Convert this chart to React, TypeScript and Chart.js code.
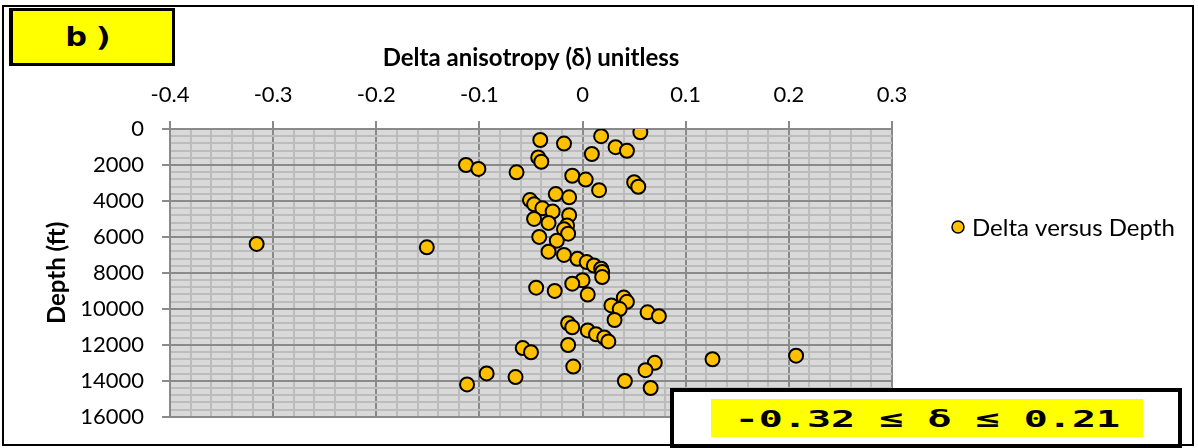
import React, { useEffect, useRef } from "react";
import { Chart, registerables } from "chart.js";

Chart.register(...registerables);

// Delta anisotropy (unitless) versus depth (ft)
const deltaValues: number[] = [
  0.056, 0.018, -0.041, -0.018, 0.032, 0.043, 0.009, -0.043, -0.04, -0.113,
  -0.101, -0.064, -0.01, 0.003, 0.05, 0.054, 0.016, -0.026, -0.013, -0.051,
  -0.047, -0.039, -0.029, -0.013, -0.047, -0.033, -0.015, -0.018, -0.014, -0.042,
  -0.025, -0.316, -0.151, -0.033, -0.018, -0.005, 0.004, 0.011, 0.018, 0.019,
  0.019, 0.0, -0.01, -0.045, -0.027, 0.005, 0.04, 0.043, 0.028, 0.036,
  0.063, 0.074, 0.031, -0.014, -0.01, 0.005, 0.013, 0.021, 0.025, -0.014,
  -0.058, -0.05, 0.207, 0.126, 0.07, -0.009, 0.061, -0.093, -0.065, 0.041,
  -0.112, 0.066,
];
const depthValues: number[] = [
  180, 400, 610, 810, 1010, 1210, 1390, 1580, 1820, 2000,
  2220, 2410, 2600, 2810, 2960, 3210, 3400, 3620, 3800, 3950,
  4190, 4410, 4590, 4790, 5000, 5220, 5360, 5570, 5820, 6000,
  6210, 6390, 6580, 6820, 7000, 7220, 7400, 7590, 7770, 7950,
  8230, 8410, 8600, 8820, 9000, 9200, 9370, 9610, 9810, 10010,
  10190, 10410, 10620, 10800, 11020, 11200, 11410, 11590, 11810, 12010,
  12180, 12410, 12600, 12800, 13000, 13210, 13410, 13590, 13790, 14010,
  14200, 14400,
];

const xMajorTicks: number[] = [-0.4, -0.3, -0.2, -0.1, 0, 0.1, 0.2, 0.3];
const xMinorStep = 0.02;
const yMajorTicks: number[] = [0, 2000, 4000, 6000, 8000, 10000, 12000, 14000, 16000];
const yMinorStep = 400;

const seriesLabel = "Delta versus Depth";
const xTitle = "Delta anisotropy (\u03b4) unitless";
const yTitle = "Depth (ft)";
const panelLabel = "b)";
const rangeLabel = "-0.32 \u2264 \u03b4 \u2264 0.21";

const MAJOR = "#8a8a8a";
const MINOR = "#bcbcbc";
const FONT = "Lato, 'Open Sans', sans-serif";

function buildTicks(min: number, max: number, step: number): number[] {
  const out: number[] = [];
  const n = Math.round((max - min) / step);
  for (let i = 0; i <= n; i++) out.push(+(min + i * step).toFixed(6));
  return out;
}
const isXMajor = (v: number) => xMajorTicks.some((m) => Math.abs(m - v) < 1e-6);
const isYMajor = (v: number) => yMajorTicks.some((m) => Math.abs(m - v) < 1e-6);

export default function App() {
  const ref = useRef<HTMLCanvasElement | null>(null);

  useEffect(() => {
    if (!ref.current) return;
    const xAll = buildTicks(xMajorTicks[0], xMajorTicks[xMajorTicks.length - 1], xMinorStep);
    const yAll = buildTicks(yMajorTicks[0], yMajorTicks[yMajorTicks.length - 1], yMinorStep);

    const bgPlugin = {
      id: "plotBg",
      beforeDraw(chart: any) {
        const { ctx, chartArea } = chart;
        ctx.save();
        ctx.fillStyle = "#d9d9d9";
        ctx.fillRect(chartArea.left, chartArea.top, chartArea.right - chartArea.left, chartArea.bottom - chartArea.top);
        ctx.restore();
      },
    };
    const legendPlugin = {
      id: "sideLegend",
      afterDraw(chart: any) {
        const { ctx } = chart;
        const ds = chart.data.datasets[0];
        ctx.save();
        ctx.beginPath();
        ctx.arc(958, 227, 6, 0, Math.PI * 2);
        ctx.fillStyle = ds.backgroundColor;
        ctx.fill();
        ctx.lineWidth = 1.5;
        ctx.strokeStyle = ds.borderColor;
        ctx.stroke();
        ctx.fillStyle = "#000";
        ctx.font = `24px ${FONT}`;
        ctx.textBaseline = "middle";
        ctx.textAlign = "left";
        ctx.fillText(ds.label, 972, 228);
        ctx.restore();
      },
    };

    const chart = new Chart(ref.current, {
      type: "scatter",
      data: {
        datasets: [
          {
            label: seriesLabel,
            data: deltaValues.map((x, i) => ({ x, y: depthValues[i] })),
            backgroundColor: "#FFC000",
            borderColor: "#000000",
            borderWidth: 2,
            pointRadius: 7,
            pointHoverRadius: 7,
          },
        ],
      },
      options: {
        animation: false,
        responsive: false,
        devicePixelRatio: 1,
        layout: { padding: { left: 0, top: 0, right: 306, bottom: 29 } },
        plugins: { legend: { display: false }, tooltip: { enabled: false } },
        scales: {
          x: {
            type: "linear",
            position: "top",
            min: xMajorTicks[0],
            max: xMajorTicks[xMajorTicks.length - 1],
            afterBuildTicks: (scale: any) => {
              scale.ticks = xAll.map((v) => ({ value: v }));
            },
            afterFit: (scale: any) => {
              scale.height = 129;
            },
            ticks: {
              autoSkip: false,
              maxRotation: 0,
              padding: 13,
              color: "#000",
              font: { family: FONT, size: 22 },
              callback: (v: any) => (isXMajor(Number(v)) ? String(Math.round(Number(v) * 10) / 10) : ""),
            },
            grid: {
              color: (c: any) => (isXMajor(c.tick?.value) ? MAJOR : MINOR),
              lineWidth: 2,
              tickLength: 8,
              tickColor: (c: any) => (isXMajor(c.tick?.value) ? MAJOR : "rgba(0,0,0,0)"),
            },
            border: { display: true, color: MAJOR, width: 2 },
            title: {
              display: true,
              text: xTitle,
              color: "#000",
              font: { family: FONT, size: 24, weight: "bold" },
              padding: { top: 44, bottom: 0 },
            },
          },
          y: {
            type: "linear",
            reverse: true,
            min: yMajorTicks[0],
            max: yMajorTicks[yMajorTicks.length - 1],
            afterBuildTicks: (scale: any) => {
              scale.ticks = yAll.map((v) => ({ value: v }));
            },
            afterFit: (scale: any) => {
              scale.width = 170;
            },
            ticks: {
              autoSkip: false,
              padding: 18,
              color: "#000",
              font: { family: FONT, size: 22 },
              callback: (v: any) => (isYMajor(Number(v)) ? String(Math.round(Number(v))) : ""),
            },
            grid: {
              color: (c: any) => (isYMajor(c.tick?.value) ? MAJOR : MINOR),
              lineWidth: 2,
              tickLength: 8,
              tickColor: (c: any) => (isYMajor(c.tick?.value) ? MAJOR : "rgba(0,0,0,0)"),
            },
            border: { display: true, color: MAJOR, width: 2 },
            title: {
              display: true,
              text: yTitle,
              color: "#000",
              font: { family: FONT, size: 24, weight: "bold" },
              padding: { top: 43, bottom: 0 },
            },
          },
        },
      },
      plugins: [bgPlugin, legendPlugin],
    } as any);
    return () => chart.destroy();
  }, []);

  const pixelFont = "'DejaVu Sans Mono', monospace";

  return (
    <div style={{ position: "absolute", left: 0, top: 0, width: 1198, height: 448, background: "#fff", overflow: "hidden" }}>
      <canvas ref={ref} width={1198} height={448} style={{ position: "absolute", left: 0, top: 0, width: 1198, height: 448 }} />
      <div style={{ position: "absolute", left: 2, top: 5, width: 1192, height: 441, border: "2px solid #000", boxSizing: "border-box", pointerEvents: "none" }} />
      <div
        style={{
          position: "absolute", left: 9, top: 8, width: 166, height: 58, boxSizing: "border-box",
          border: "3px solid #000", borderLeftWidth: 4, background: "#ffff00",
          display: "flex", alignItems: "center", justifyContent: "center",
        }}
      >
        <span style={{ fontFamily: pixelFont, fontWeight: "bold", fontSize: 26, transform: "scale(1.4,1)", display: "inline-block", letterSpacing: 4, color: "#000" }}>
          {panelLabel}
        </span>
      </div>
      <div style={{ position: "absolute", left: 670, top: 388, width: 512, height: 60, boxSizing: "border-box", border: "4px solid #000", background: "#fff" }}>
        <div
          style={{
            position: "absolute", left: 37, top: 7, width: 432, height: 38, background: "#ffff00",
            display: "flex", alignItems: "center", justifyContent: "center",
          }}
        >
          <span style={{ fontFamily: pixelFont, fontWeight: "bold", fontSize: 25, transform: "scale(1.6,0.95)", display: "inline-block", whiteSpace: "pre", color: "#000" }}>
            {rangeLabel}
          </span>
        </div>
      </div>
    </div>
  );
}
